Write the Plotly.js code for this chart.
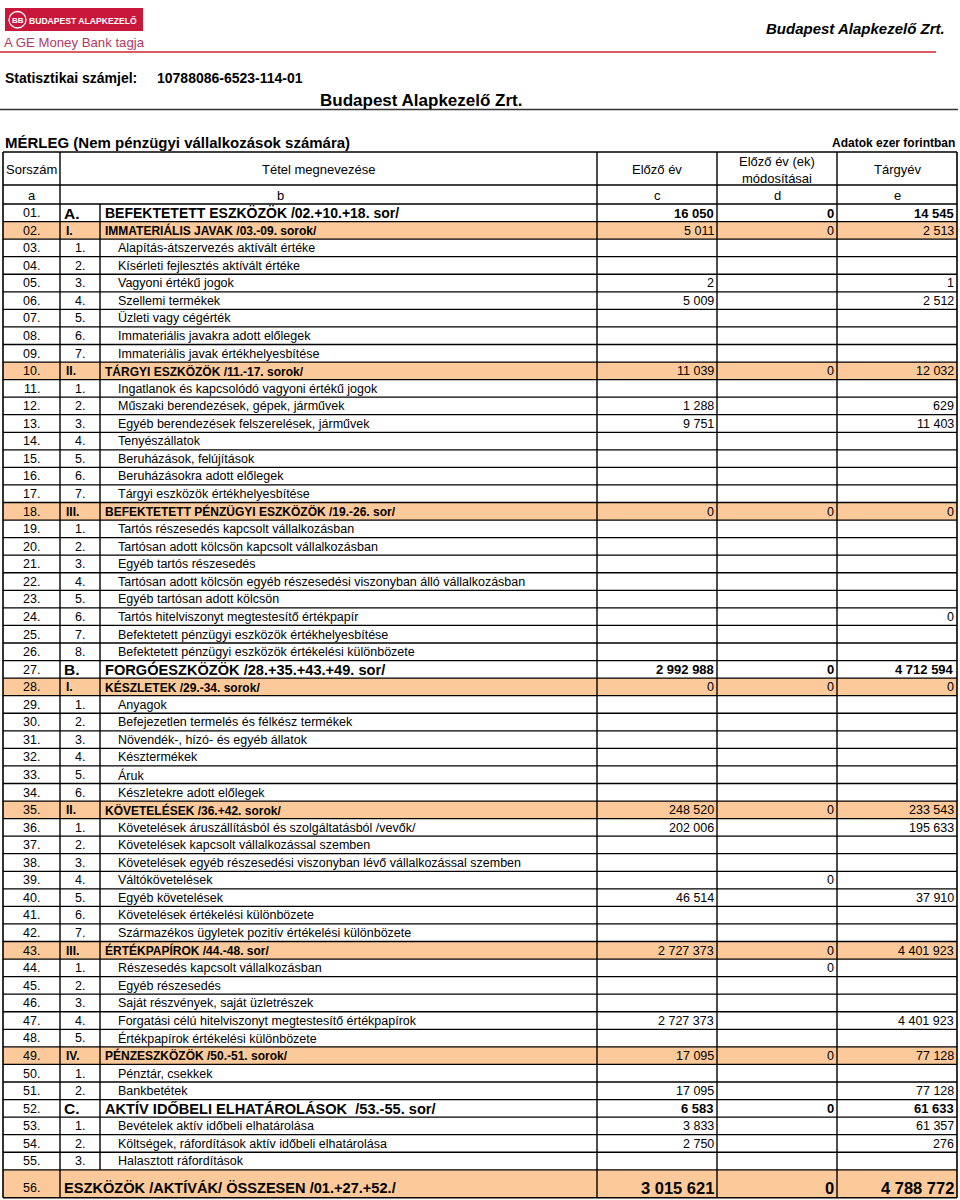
<!DOCTYPE html>
<html>
<head>
<meta charset="utf-8">
<script src="https://cdn.plot.ly/plotly-3.0.1.min.js"></script>
<style>html,body{margin:0;padding:0;background:#fff}</style>
</head>
<body>
<div id="chart" style="width:960px;height:1200px"></div>
<script>
/* -------------------- DATA -------------------- */

const codes = [
  'A.', 'I.', '1.', '2.', '3.', '4.', '5.', '6.', '7.',
  'II.', '1.', '2.', '3.', '4.', '5.', '6.', '7.',
  'III.', '1.', '2.', '3.', '4.', '5.', '6.', '7.', '8.',
  'B.', 'I.', '1.', '2.', '3.', '4.', '5.', '6.',
  'II.', '1.', '2.', '3.', '4.', '5.', '6.', '7.',
  'III.', '1.', '2.', '3.', '4.', '5.',
  'IV.', '1.', '2.',
  'C.', '1.', '2.', '3.',
  ''
];

const names = [
  'BEFEKTETETT ESZKÖZÖK /02.+10.+18. sor/',
  'IMMATERIÁLIS JAVAK /03.-09. sorok/',
  'Alapítás-átszervezés aktívált értéke',
  'Kísérleti fejlesztés aktívált értéke',
  'Vagyoni értékű jogok',
  'Szellemi termékek',
  'Üzleti vagy cégérték',
  'Immateriális javakra adott előlegek',
  'Immateriális javak értékhelyesbítése',
  'TÁRGYI ESZKÖZÖK /11.-17. sorok/',
  'Ingatlanok és kapcsolódó vagyoni értékű jogok',
  'Műszaki berendezések, gépek, járművek',
  'Egyéb berendezések felszerelések, járművek',
  'Tenyészállatok',
  'Beruházások, felújítások',
  'Beruházásokra adott előlegek',
  'Tárgyi eszközök értékhelyesbítése',
  'BEFEKTETETT PÉNZÜGYI ESZKÖZÖK /19.-26. sor/',
  'Tartós részesedés kapcsolt vállalkozásban',
  'Tartósan adott kölcsön kapcsolt vállalkozásban',
  'Egyéb tartós részesedés',
  'Tartósan adott kölcsön egyéb részesedési viszonyban álló vállalkozásban',
  'Egyéb tartósan adott kölcsön',
  'Tartós hitelviszonyt megtestesítő értékpapír',
  'Befektetett pénzügyi eszközök értékhelyesbítése',
  'Befektetett pénzügyi eszközök értékelési különbözete',
  'FORGÓESZKÖZÖK /28.+35.+43.+49. sor/',
  'KÉSZLETEK /29.-34. sorok/',
  'Anyagok',
  'Befejezetlen termelés és félkész termékek',
  'Növendék-, hízó- és egyéb állatok',
  'Késztermékek',
  'Áruk',
  'Készletekre adott előlegek',
  'KÖVETELÉSEK /36.+42. sorok/',
  'Követelések áruszállításból és szolgáltatásból /vevők/',
  'Követelések kapcsolt vállalkozással szemben',
  'Követelések egyéb részesedési viszonyban lévő vállalkozással szemben',
  'Váltókövetelések',
  'Egyéb követelések',
  'Követelések értékelési különbözete',
  'Származékos ügyletek pozitív értékelési különbözete',
  'ÉRTÉKPAPÍROK /44.-48. sor/',
  'Részesedés kapcsolt vállalkozásban',
  'Egyéb részesedés',
  'Saját részvények, saját üzletrészek',
  'Forgatási célú hitelviszonyt megtestesítő értékpapírok',
  'Értékpapírok értékelési különbözete',
  'PÉNZESZKÖZÖK /50.-51. sorok/',
  'Pénztár, csekkek',
  'Bankbetétek',
  'AKTÍV IDŐBELI ELHATÁROLÁSOK  /53.-55. sor/',
  'Bevételek aktív időbeli elhatárolása',
  'Költségek, ráfordítások aktív időbeli elhatárolása',
  'Halasztott ráfordítások',
  'ESZKÖZÖK /AKTÍVÁK/ ÖSSZESEN /01.+27.+52./'
];

// hierarchy level of each row: main section, group, item, grand total
const levels = [
  'main', 'group', 'item', 'item', 'item', 'item', 'item', 'item', 'item',
  'group', 'item', 'item', 'item', 'item', 'item', 'item', 'item',
  'group', 'item', 'item', 'item', 'item', 'item', 'item', 'item', 'item',
  'main', 'group', 'item', 'item', 'item', 'item', 'item', 'item',
  'group', 'item', 'item', 'item', 'item', 'item', 'item', 'item',
  'group', 'item', 'item', 'item', 'item', 'item',
  'group', 'item', 'item',
  'main', 'item', 'item', 'item',
  'total'
];

// c: Előző év
const prevYear = [
  16050, 5011, null, null, 2, 5009, null, null, null,
  11039, null, 1288, 9751, null, null, null, null,
  0, null, null, null, null, null, null, null, null,
  2992988, 0, null, null, null, null, null, null,
  248520, 202006, null, null, null, 46514, null, null,
  2727373, null, null, null, 2727373, null,
  17095, null, 17095,
  6583, 3833, 2750, null,
  3015621
];

// d: Előző év (ek) módosításai
const corrections = [
  0, 0, null, null, null, null, null, null, null,
  0, null, null, null, null, null, null, null,
  0, null, null, null, null, null, null, null, null,
  0, 0, null, null, null, null, null, null,
  0, null, null, null, 0, null, null, null,
  0, 0, null, null, null, null,
  0, null, null,
  0, null, null, null,
  0
];

// e: Tárgyév
const curYear = [
  14545, 2513, null, null, 1, 2512, null, null, null,
  12032, null, 629, 11403, null, null, null, null,
  0, null, null, null, null, null, 0, null, null,
  4712594, 0, null, null, null, null, null, null,
  233543, 195633, null, null, null, 37910, null, null,
  4401923, null, null, null, 4401923, null,
  77128, null, 77128,
  61633, 61357, 276, null,
  4788772
];

const headers = ['Sorszám', 'Tétel megnevezése', 'Előző év', 'Előző év (ek)<br>módosításai', 'Tárgyév'];
const letters = ['a', 'b', 'c', 'd', 'e'];

/* -------------------- LAYOUT CONSTANTS -------------------- */

const FONT = 'Liberation Sans, Arial, sans-serif';
const ORANGE = '#fbc99a';
const colX = [3, 60, 100, 597, 717, 837, 957];
const TOP = 152, HEAD_BOTTOM = 185, LETTER_BOTTOM = 204;
const ROW_H = 17.56, LAST_H = 28;
const n = names.length;

function rowTop(i) { return LETTER_BOTTOM + i * ROW_H; }
function rowBottom(i) { return rowTop(i) + (i === n - 1 ? LAST_H : ROW_H); }
function rowMid(i) { return i === n - 1 ? rowBottom(i) - 10 : rowTop(i) + ROW_H / 2 + 0.3; }
function fmt(v) { return String(v).replace(/\B(?=(\d{3})+(?!\d))/g, ' '); }

const shapes = [];
const annotations = [];

function txt(x, y, text, size, anchor, color) {
  annotations.push({
    x, y, text, xref: 'x', yref: 'y', showarrow: false,
    xanchor: anchor, yanchor: 'middle', borderpad: 0, borderwidth: 0,
    font: { family: FONT, size, color: color || '#000' }
  });
}
function hline(y, x0, x1, w, color) {
  shapes.push({ type: 'line', xref: 'x', yref: 'y', x0, x1, y0: y, y1: y, line: { color: color || '#000', width: w } });
}
function vline(x, y0, y1, w) {
  shapes.push({ type: 'line', xref: 'x', yref: 'y', x0: x, x1: x, y0, y1, line: { color: '#000', width: w } });
}

/* -------------------- PAGE HEADER -------------------- */

// logo box
shapes.push({ type: 'rect', xref: 'x', yref: 'y', x0: 5, x1: 143, y0: 8, y1: 31, fillcolor: '#c8173a', line: { width: 0 } });
shapes.push({ type: 'circle', xref: 'x', yref: 'y', x0: 9, x1: 26, y0: 11.5, y1: 28, line: { color: '#fff', width: 1.3 } });
txt(17.5, 20, '<b>BB</b>', 8, 'center', '#fff');
txt(29, 20, '<b>BUDAPEST ALAPKEZELŐ</b>', 8.6, 'left', '#fff');
txt(4, 42, 'A GE Money Bank tagja', 13.2, 'left', '#b23a62');
hline(52, 0, 936, 1.6, '#d22630');
txt(945, 28, '<b><i>Budapest Alapkezelő Zrt.</i></b>', 15, 'right');

txt(5, 78, '<b>Statisztikai számjel:</b>', 14, 'left');
txt(157, 78, '<b>10788086-6523-114-01</b>', 14, 'left');
txt(320, 100, '<b>Budapest Alapkezelő Zrt.</b>', 17, 'left');
hline(109.5, 0, 958, 1.6, '#333');

txt(5, 142, '<b>MÉRLEG (Nem pénzügyi vállalkozások számára)</b>', 15, 'left');
txt(955, 143, '<b>Adatok ezer forintban</b>', 12, 'right');

/* -------------------- TABLE HEADER -------------------- */

const headMid = (TOP + HEAD_BOTTOM) / 2 + 1;
const letterMid = (HEAD_BOTTOM + LETTER_BOTTOM) / 2 + 0.5;
const headCenters = [(colX[0] + colX[1]) / 2, 318, (colX[3] + colX[4]) / 2, (colX[4] + colX[5]) / 2, (colX[5] + colX[6]) / 2];
const letterCenters = [(colX[0] + colX[1]) / 2, 280, (colX[3] + colX[4]) / 2, (colX[4] + colX[5]) / 2, (colX[5] + colX[6]) / 2];
headers.forEach((h, k) => txt(headCenters[k], headMid, h, 13, 'center'));
letters.forEach((l, k) => txt(letterCenters[k], letterMid, l, 13, 'center'));

/* -------------------- ROWS -------------------- */

for (let i = 0; i < n; i++) {
  const lv = levels[i];
  const y = rowMid(i);
  if (lv === 'group' || lv === 'total') {
    shapes.push({ type: 'rect', xref: 'x', yref: 'y', layer: 'below', x0: colX[0], x1: colX[6],
      y0: rowTop(i), y1: rowBottom(i), fillcolor: ORANGE, line: { width: 0 } });
  }

  txt((colX[0] + colX[1]) / 2, y, String(i + 1).padStart(2, '0') + '.', 12.5, 'center');

  if (lv === 'main') {
    txt(colX[1] + 4, y, '<b>' + codes[i] + '</b>', 15.5, 'left');
    txt(colX[2] + 5, y, '<b>' + names[i] + '</b>', i === 0 ? 14 : 14.6, 'left');
  } else if (lv === 'group') {
    txt(colX[1] + 6, y, '<b>' + codes[i] + '</b>', 12, 'left');
    txt(colX[2] + 5, y, '<b>' + names[i] + '</b>', 12, 'left');
  } else if (lv === 'item') {
    txt((colX[1] + colX[2]) / 2, y, codes[i], 12.5, 'center');
    txt(colX[2] + 18, y, names[i], 12.5, 'left');
  } else {
    txt(colX[1] + 4, y, '<b>' + names[i] + '</b>', 14.6, 'left');
  }

  const cols = [prevYear, corrections, curYear];
  cols.forEach((arr, k) => {
    const v = arr[i];
    if (v === null) return;
    const right = colX[4 + k] - 3;
    if (lv === 'main') txt(right, y, '<b>' + fmt(v) + '</b>', 13, 'right');
    else if (lv === 'total') txt(right, y, '<b>' + fmt(v) + '</b>', 16.5, 'right');
    else txt(right, y, fmt(v), 12.5, 'right');
  });
}

/* -------------------- GRID -------------------- */

const bottom = rowBottom(n - 1);
hline(TOP, colX[0], colX[6], 1.6);
hline(HEAD_BOTTOM, colX[0], colX[6], 1.4);
hline(LETTER_BOTTOM, colX[0], colX[6], 1.4);
for (let i = 0; i < n; i++) hline(rowBottom(i), colX[0], colX[6], i === n - 1 ? 1.6 : 1.3);
[0, 1, 3, 4, 5, 6].forEach(k => vline(colX[k], TOP, bottom, k === 0 || k === 6 ? 1.6 : 1.4));
vline(colX[2], LETTER_BOTTOM, rowTop(n - 1), 1.4);

/* -------------------- PLOT -------------------- */

Plotly.newPlot('chart', [], {
  width: 960, height: 1200,
  margin: { l: 0, r: 0, t: 0, b: 0 },
  paper_bgcolor: '#fff', plot_bgcolor: '#fff',
  showlegend: false,
  xaxis: { range: [0, 960], visible: false, fixedrange: true },
  yaxis: { range: [1200, 0], visible: false, fixedrange: true },
  shapes, annotations
}, { staticPlot: true, displayModeBar: false });
</script>
</body>
</html>
